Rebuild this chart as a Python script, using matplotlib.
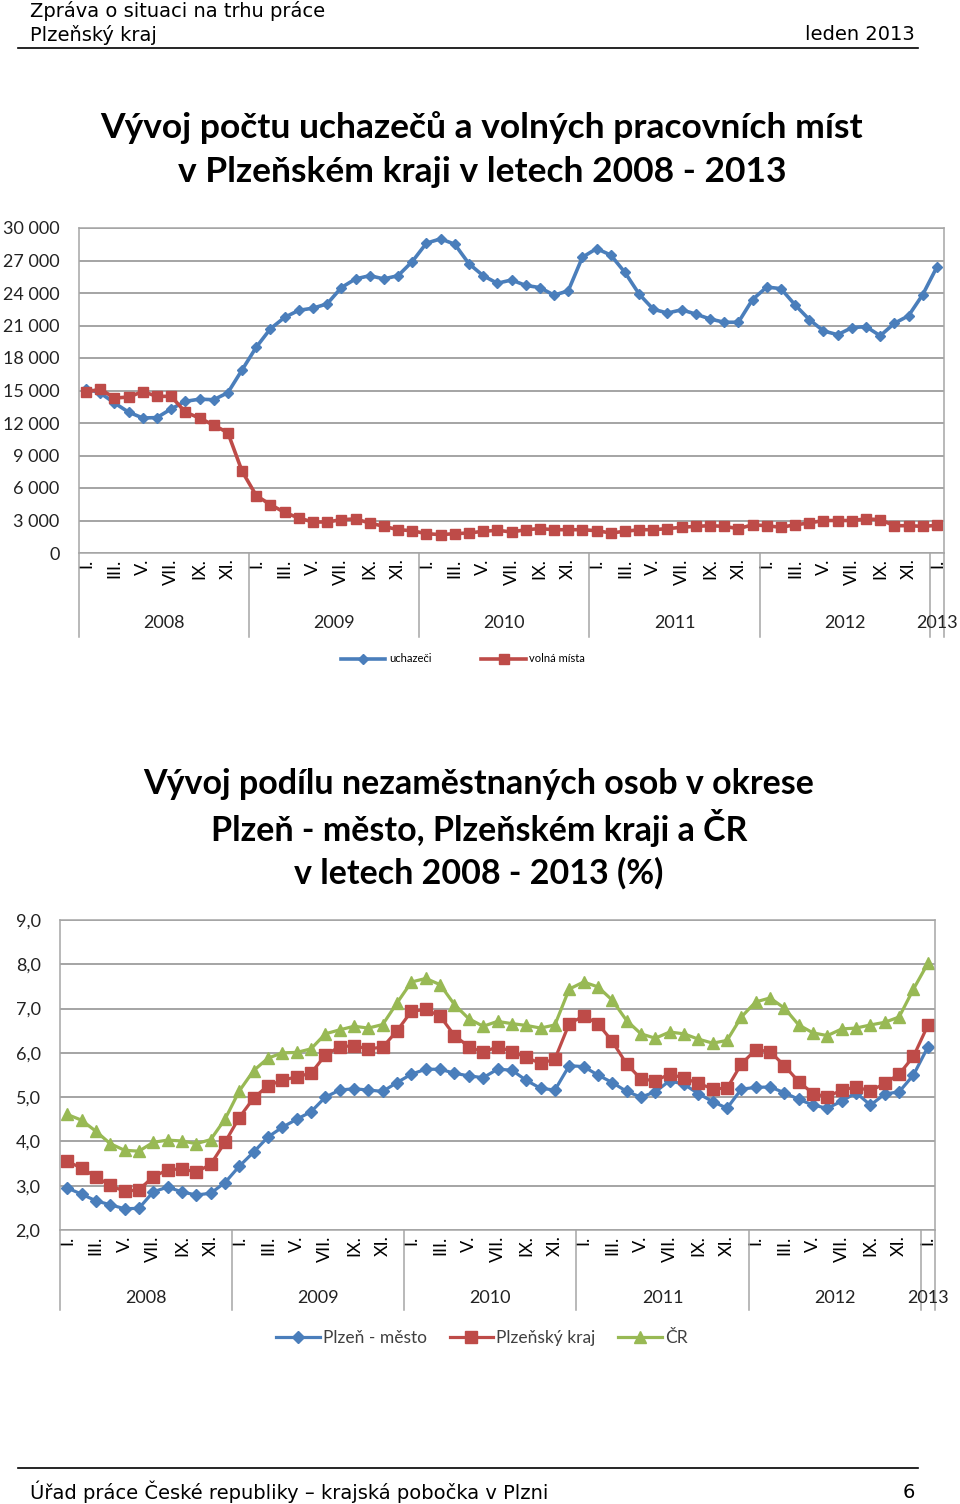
import numpy as np
import matplotlib
matplotlib.use("Agg")
import matplotlib.pyplot as plt
from matplotlib.ticker import FuncFormatter

# monthly data Jan 2008 - Jan 2013
uchazeci = [15170, 14770, 13850, 13000, 12460, 12500, 13300, 14000, 14200, 14150, 14800, 16900,
            19000, 20700, 21750, 22400, 22600, 23000, 24500, 25300, 25600, 25300, 25600, 26900,
            28600, 29000, 28500, 26700, 25600, 24900, 25200, 24700, 24500, 23800, 24200, 27300,
            28100, 27500, 25900, 23900, 22500, 22150, 22450, 22050, 21600, 21300, 21300, 23400,
            24550, 24400, 22900, 21550, 20500, 20150, 20800, 20900, 20050, 21200, 21900, 23850,
            26400]
volna_mista = [14830, 15140, 14300, 14400, 14900, 14460, 14460, 13000, 12460, 11800, 11100, 7550,
               5300, 4460, 3750, 3230, 2860, 2860, 3080, 3140, 2770, 2460, 2150, 2060,
               1780, 1700, 1780, 1850, 2000, 2100, 1940, 2150, 2250, 2150, 2150, 2150,
               2060, 1850, 2000, 2150, 2150, 2250, 2370, 2460, 2520, 2460, 2250, 2600,
               2520, 2370, 2600, 2770, 3000, 3000, 3000, 3140, 3080, 2520, 2520, 2460,
               2550]

plzen_mesto = [2.95, 2.81, 2.66, 2.57, 2.48, 2.49, 2.86, 2.97, 2.86, 2.79, 2.83, 3.07,
               3.44, 3.76, 4.10, 4.32, 4.50, 4.67, 5.00, 5.16, 5.19, 5.16, 5.13, 5.33,
               5.52, 5.63, 5.63, 5.54, 5.48, 5.44, 5.63, 5.61, 5.38, 5.20, 5.16, 5.71,
               5.69, 5.50, 5.33, 5.13, 5.00, 5.12, 5.37, 5.29, 5.08, 4.90, 4.75, 5.18,
               5.22, 5.23, 5.10, 4.95, 4.82, 4.75, 4.91, 5.10, 4.82, 5.07, 5.12, 5.50,
               6.13]
plzensky_kraj = [3.55, 3.40, 3.20, 3.01, 2.87, 2.91, 3.20, 3.36, 3.38, 3.31, 3.48, 3.98,
                 4.54, 4.98, 5.26, 5.38, 5.46, 5.54, 5.95, 6.14, 6.16, 6.09, 6.13, 6.50,
                 6.94, 6.98, 6.83, 6.39, 6.14, 6.01, 6.14, 6.03, 5.90, 5.76, 5.86, 6.66,
                 6.83, 6.66, 6.26, 5.75, 5.41, 5.37, 5.52, 5.43, 5.31, 5.19, 5.20, 5.75,
                 6.07, 6.03, 5.71, 5.35, 5.08, 5.01, 5.16, 5.23, 5.14, 5.31, 5.52, 5.92,
                 6.62]
cr = [4.61, 4.48, 4.23, 3.95, 3.80, 3.78, 3.98, 4.03, 4.01, 3.95, 4.04, 4.50,
      5.14, 5.60, 5.88, 6.00, 6.01, 6.09, 6.43, 6.52, 6.60, 6.56, 6.64, 7.13,
      7.60, 7.68, 7.54, 7.09, 6.77, 6.60, 6.71, 6.66, 6.62, 6.56, 6.63, 7.44,
      7.60, 7.49, 7.19, 6.73, 6.43, 6.33, 6.47, 6.43, 6.31, 6.22, 6.28, 6.81,
      7.15, 7.24, 7.01, 6.63, 6.45, 6.39, 6.54, 6.56, 6.63, 6.69, 6.81, 7.44,
      8.02]

years = ['2008', '2009', '2010', '2011', '2012', '2013']
months = ['I.', 'III.', 'V.', 'VII.', 'IX.', 'XI.']

BLUE = '#4a7ebb'
RED = '#be4b48'
GREEN = '#98b954'
GRID = '#8c8c8c'
AXC = '#a6a6a6'

W, H = 960, 1504
fig = plt.figure(figsize=(W / 100, H / 100), dpi=100)

def rect(l, t, r, b):
    return [l / W, 1 - b / H, (r - l) / W, (b - t) / H]

def fy(y):
    return 1 - y / H

# page header / footer
hdr = dict(family='DejaVu Sans', fontsize=14, color='black')
fig.text(30 / W, fy(11), 'Zpráva o situaci na trhu práce', ha='left', va='center', **hdr)
fig.text(30 / W, fy(35), 'Plzeňský kraj', ha='left', va='center', **hdr)
fig.text(915 / W, fy(35), 'leden 2013', ha='right', va='center', **hdr)
fig.add_artist(plt.Line2D([18 / W, 918 / W], [fy(48), fy(48)], color='black', lw=1.2))
fig.add_artist(plt.Line2D([18 / W, 918 / W], [fy(1468), fy(1468)], color='black', lw=1.2))
fig.text(30 / W, fy(1492), 'Úřad práce České republiky – krajská pobočka v Plzni',
         ha='left', va='center', **hdr)
fig.text(915 / W, fy(1492), '6', ha='right', va='center', **hdr)

TFONT = 'Lato'
x = np.arange(len(uchazeci))
month_labels = months * 5 + ['I.']


def style_axes(ax, ymin, ymax, step, fmt, ylab_size, year_y, sep_y):
    ax.set_xlim(-0.5, len(x) - 0.5)
    ax.set_ylim(ymin, ymax)
    ax.set_yticks(np.arange(ymin, ymax + step / 2, step))
    ax.yaxis.set_major_formatter(FuncFormatter(fmt))
    ax.grid(axis='y', color=GRID, lw=1.1)
    ax.set_axisbelow(True)
    for s in ax.spines.values():
        s.set_color(AXC)
        s.set_linewidth(1.1)
    ax.tick_params(length=0, labelsize=ylab_size, labelcolor='#222222', pad=14)
    for lab in ax.get_yticklabels():
        lab.set_family(TFONT)
    ax.set_xticks(np.arange(0, len(x), 2))
    ax.set_xticklabels(month_labels, rotation=90, va='top', family=TFONT,
                       fontsize=ylab_size, color='black')
    ax.tick_params(axis='x', pad=4)
    tr = ax.get_xaxis_transform()
    for sx in [-0.5, 11.5, 23.5, 35.5, 47.5, 59.5, 60.5]:
        ax.plot([sx, sx], [0, sep_y], transform=tr, color=AXC, lw=1.1, clip_on=False)
    for i, yr in enumerate(years):
        cx = i * 12 + 5.5 if yr != '2013' else 60
        ax.text(cx, year_y, yr, transform=tr, ha='center', va='center',
                family=TFONT, fontsize=ylab_size, color='#222222')


# chart 1
fig.text(482 / W, fy(128), 'Vývoj počtu uchazečů a volných pracovních míst', ha='center',
         va='center', family=TFONT, fontweight='bold', fontsize=25.5)
fig.text(482 / W, fy(172), 'v Plzeňském kraji v letech 2008 - 2013', ha='center',
         va='center', family=TFONT, fontweight='bold', fontsize=25.5)

ax1 = fig.add_axes(rect(79, 228, 944, 553))
ax1.plot(x, uchazeci, color=BLUE, lw=2.6, marker='D', ms=5.5, label='uchazeči')
ax1.plot(x, volna_mista, color=RED, lw=2.6, marker='s', ms=7, label='volná místa')
style_axes(ax1, 0, 30000, 3000, lambda v, p: f'{int(v):,}'.replace(',', ' '), 13,
           (553 - 623) / 325, (553 - 637) / 325)
ax1.legend(loc='center', bbox_to_anchor=(463 / W, fy(659)), bbox_transform=fig.transFigure,
           ncol=2, frameon=False, handlelength=4.0, columnspacing=4.5, handletextpad=0.3,
           prop={'family': TFONT, 'size': 8})

# chart 2
for txt, yy in [('Vývoj podílu nezaměstnaných osob v okrese', 784),
                ('Plzeň - město, Plzeňském kraji a ČR', 828),
                ('v letech 2008 - 2013 (%)', 873)]:
    fig.text(479 / W, fy(yy), txt, ha='center', va='center', family=TFONT,
             fontweight='bold', fontsize=24.5)

ax2 = fig.add_axes(rect(60, 920, 935, 1230))
ax2.plot(x, plzen_mesto, color=BLUE, lw=2.3, marker='D', ms=6, label='Plzeň - město')
ax2.plot(x, plzensky_kraj, color=RED, lw=2.3, marker='s', ms=8, label='Plzeňský kraj')
ax2.plot(x, cr, color=GREEN, lw=2.3, marker='^', ms=8, label='ČR')
style_axes(ax2, 2, 9, 1, lambda v, p: f'{v:.1f}'.replace('.', ','), 13,
           (1230 - 1298) / 310, (1230 - 1310) / 310)
ax2.legend(loc='center', bbox_to_anchor=(482 / W, fy(1338)), bbox_transform=fig.transFigure,
           ncol=3, frameon=False, handlelength=2.5, columnspacing=1.3, handletextpad=0.2,
           prop={'family': TFONT, 'size': 12.5}, labelcolor='#404040')

fig.savefig('out.png', dpi=100)
